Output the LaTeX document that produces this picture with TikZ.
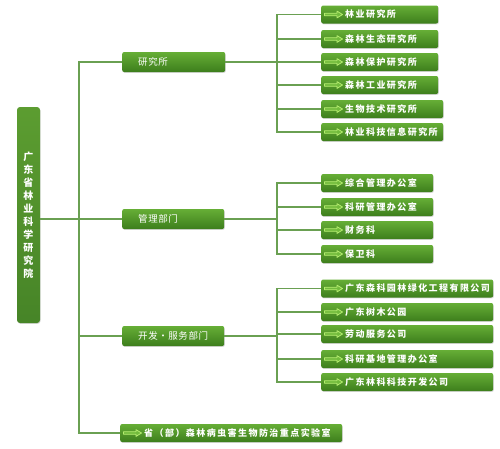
\documentclass[tikz,border=0pt]{standalone}
\usepackage{fontspec}
\newfontfamily\cjk{Noto Sans CJK SC}[LetterSpace=16]
\newfontfamily\cjkr{Noto Sans CJK SC}[LetterSpace=6]
\usetikzlibrary{shadows}
\definecolor{linegreen}{HTML}{6AA052}
\definecolor{boxtop}{HTML}{66AE36}
\definecolor{boxbot}{HTML}{3D7E1C}
\definecolor{arrowline}{HTML}{B5EC70}
\definecolor{arrowfill}{HTML}{72BB3C}
\tikzset{
  conn/.style={draw=linegreen, line width=1.1pt},
  gbox/.style={rounded corners=2pt, top color=boxtop, bottom color=boxbot,
    draw=none, text=white, anchor=west, inner xsep=0pt, inner ysep=0pt,
    minimum height=18pt, align=left,
    drop shadow={shadow xshift=0.6pt, shadow yshift=-0.9pt, opacity=0.3}},
  leaf/.style={gbox, text width=#1, font={\fontsize{9}{11}\cjk\bfseries},
    execute at begin node={\hspace*{24pt}}},
  mid/.style={gbox, text width=#1, minimum height=20pt,
    font={\fontsize{9.5}{11}\cjkr},
    execute at begin node={\hspace*{16pt}}},
  garrow/.pic={\draw[draw=arrowline, fill=arrowfill, line width=0.8pt, line join=round]
    (-9,-1.3) -- (3.5,-1.3) -- (3.5,-3.4) -- (9,0) -- (3.5,3.4) -- (3.5,1.3) -- (-9,1.3) -- cycle;}
}
\begin{document}
\begin{tikzpicture}[x=1pt, y=-1pt]
\useasboundingbox (0,0) rectangle (500,448);
% root
\node[rounded corners=3pt, top color=boxtop!90!black, bottom color=boxbot!95, text=white,
  minimum width=23pt, minimum height=216pt, inner sep=0pt, text width=12pt, align=center,
  font={\fontsize{10}{13}\cjk\bfseries},
  drop shadow={shadow xshift=0.6pt, shadow yshift=-0.9pt, opacity=0.3}]
  (root) at (28.5,215) {广\\东\\省\\林\\业\\科\\学\\研\\究\\院};
% level 2
\node[mid=103pt] (r1) at (122,62) {研究所};
\node[mid=102pt] (r2) at (122,219) {管理部门};
\node[mid=102pt] (r3) at (122,336) {开发·服务部门};
\node[leaf=222pt] (r4) at (120,433) {省（部）森林病虫害生物防治重点实验室};
% group 1
\node[leaf=117pt] (a1) at (321,14.5) {林业研究所};
\node[leaf=117pt] (a2) at (321,39) {森林生态研究所};
\node[leaf=117pt] (a3) at (321,62) {森林保护研究所};
\node[leaf=117pt] (a4) at (321,85) {森林工业研究所};
\node[leaf=122pt] (a5) at (321,109) {生物技术研究所};
\node[leaf=122pt] (a6) at (321,132) {林业科技信息研究所};
% group 2
\node[leaf=112pt] (b1) at (321,183) {综合管理办公室};
\node[leaf=112pt] (b2) at (321,207) {科研管理办公室};
\node[leaf=112pt] (b3) at (321,230) {财务科};
\node[leaf=112pt] (b4) at (321,254) {保卫科};
% group 3
\node[leaf=172pt] (c1) at (321,288.5) {广东森科园林绿化工程有限公司};
\node[leaf=172pt] (c2) at (321,312) {广东树木公园};
\node[leaf=172pt] (c3) at (321,334) {劳动服务公司};
\node[leaf=172pt] (c4) at (321,359) {科研基地管理办公室};
\node[leaf=172pt] (c5) at (321,382) {广东林科科技开发公司};
% arrows
\foreach \n in {a1,a2,a3,a4,a5,a6,b1,b2,b3,b4,c1,c2,c3,c4,c5,r4}
  \pic at ([xshift=12.5pt]\n.west) {garrow};
% trunk
\coordinate (tk) at (79,0);
\coordinate (bk) at (277,0);
\draw[conn] (root.east |- r2.west) -- (r2.west);
\draw[conn] (r1.west) -- (r1.west -| tk) -- (r4.west -| tk) -- (r4.west);
\draw[conn] (r3.west) -- (r3.west -| tk);
% branches
\draw[conn] (r1.east) -- (r1.east -| bk);
\draw[conn] (r2.east) -- (r2.east -| bk);
\draw[conn] (r3.east) -- (r3.east -| bk);
\draw[conn] (a1.west) -- (a1.west -| bk) -- (a6.west -| bk) -- (a6.west);
\draw[conn] (b1.west) -- (b1.west -| bk) -- (b4.west -| bk) -- (b4.west);
\draw[conn] (c1.west) -- (c1.west -| bk) -- (c5.west -| bk) -- (c5.west);
\foreach \n in {a2,a3,a4,a5,b2,b3,c2,c3,c4}
  \draw[conn] (\n.west) -- (\n.west -| bk);
\end{tikzpicture}
\end{document}
